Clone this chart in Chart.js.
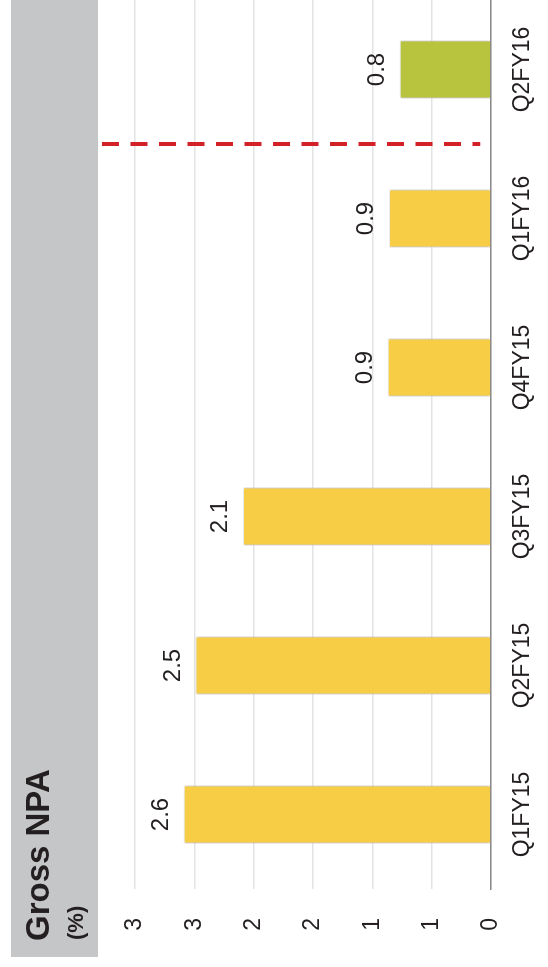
<!DOCTYPE html>
<html>
<head>
<meta charset="utf-8">
<script src="https://cdn.jsdelivr.net/npm/chart.js@4.4.1/dist/chart.umd.min.js"></script>
<style>
  html, body { margin: 0; padding: 0; background: #fff; overflow: hidden; }
  body { width: 548px; height: 967px; position: relative; }
  /* the chart is drawn upright, then turned a quarter left like the reference */
  #wrap {
    position: absolute; left: 0; top: 0;
    width: 972px; height: 548px;
    transform-origin: 0 0;
    transform: translateY(967px) rotate(-90deg);
  }
</style>
</head>
<body>
<div id="wrap"><canvas id="npa-chart"></canvas></div>
<script>
// data
const quarters = ["Q1FY15", "Q2FY15", "Q3FY15", "Q4FY15", "Q1FY16", "Q2FY16"];
const grossNpa = [2.59, 2.49, 2.09, 0.87, 0.86, 0.77];
const tickLabels = ["0", "1", "1", "2", "2", "3", "3"];

const YELLOW = "#f7cd46";
const GREEN = "#b8c43e";
const FONT = "'Liberation Sans', Arial, sans-serif";

// grey band with the title at the top
const titleBand = {
  id: "titleBand",
  beforeDraw(chart) {
    const ctx = chart.ctx;
    ctx.save();
    ctx.fillStyle = "#c5c6c8";
    ctx.fillRect(10, 11, chart.width - 10, 87);
    ctx.fillStyle = "#231f20";
    ctx.textAlign = "left";
    ctx.textBaseline = "alphabetic";
    ctx.font = "bold 33px " + FONT;
    ctx.fillText("Gross NPA", 26, 49);
    ctx.font = "bold 22px " + FONT;
    ctx.fillText("(%)", 27, 83);
    ctx.restore();
  }
};

// soft shadow round the bars
const barShadow = {
  id: "barShadow",
  beforeDatasetDraw(chart) {
    const ctx = chart.ctx;
    ctx.save();
    ctx.shadowColor = "rgba(0,0,0,0.3)";
    ctx.shadowBlur = 3;
  },
  afterDatasetDraw(chart) {
    chart.ctx.restore();
  }
};

// value above each bar, red dashed divider before the last quarter
const extras = {
  id: "extras",
  afterDatasetsDraw(chart) {
    const ctx = chart.ctx;
    const bars = chart.getDatasetMeta(0).data;
    ctx.save();
    ctx.fillStyle = "#231f20";
    ctx.font = "24px " + FONT;
    ctx.textAlign = "center";
    ctx.textBaseline = "alphabetic";
    bars.forEach((bar, i) => {
      ctx.fillText(grossNpa[i].toFixed(1), bar.x, bar.y - 16);
    });

    const xScale = chart.scales.x;
    const yScale = chart.scales.y;
    const n = quarters.length;
    const xDiv = (xScale.getPixelForValue(n - 2) + xScale.getPixelForValue(n - 1)) / 2;
    ctx.strokeStyle = "#d42027";
    ctx.lineWidth = 4;
    ctx.setLineDash([17, 11.5]);
    ctx.beginPath();
    ctx.moveTo(xDiv, chart.chartArea.top - 33);
    ctx.lineTo(xDiv, yScale.getPixelForValue(0.09));
    ctx.stroke();
    ctx.restore();
  }
};

new Chart(document.getElementById("npa-chart"), {
  type: "bar",
  data: {
    labels: quarters,
    datasets: [{
      data: grossNpa,
      backgroundColor: grossNpa.map((v, i) => i === grossNpa.length - 1 ? GREEN : YELLOW),
      borderColor: "#ffffff",
      borderWidth: 1,
      barPercentage: 0.39,
      categoryPercentage: 1
    }]
  },
  options: {
    responsive: true,
    maintainAspectRatio: false,
    animation: false,
    layout: { padding: { top: 135, left: 0, right: 0, bottom: 0 } },
    plugins: {
      legend: { display: false },
      tooltip: { enabled: false }
    },
    scales: {
      x: {
        grid: { display: false },
        border: { display: true, color: "#8a8a8a", width: 1.5 },
        ticks: {
          color: "#231f20",
          font: { family: FONT, size: 23 },
          padding: 10,
          maxRotation: 0
        },
        afterFit(scale) { scale.height = 57; }
      },
      y: {
        min: 0,
        max: 3,
        grid: { color: "#e3e3e3", lineWidth: 1.5, drawTicks: false },
        border: { display: false },
        ticks: {
          stepSize: 0.5,
          color: "#231f20",
          font: { family: FONT, size: 23 },
          padding: 29,
          callback: (v, i) => tickLabels[i]
        },
        afterFit(scale) { scale.width = 78; }
      }
    }
  },
  plugins: [titleBand, barShadow, extras]
});
</script>
</body>
</html>
